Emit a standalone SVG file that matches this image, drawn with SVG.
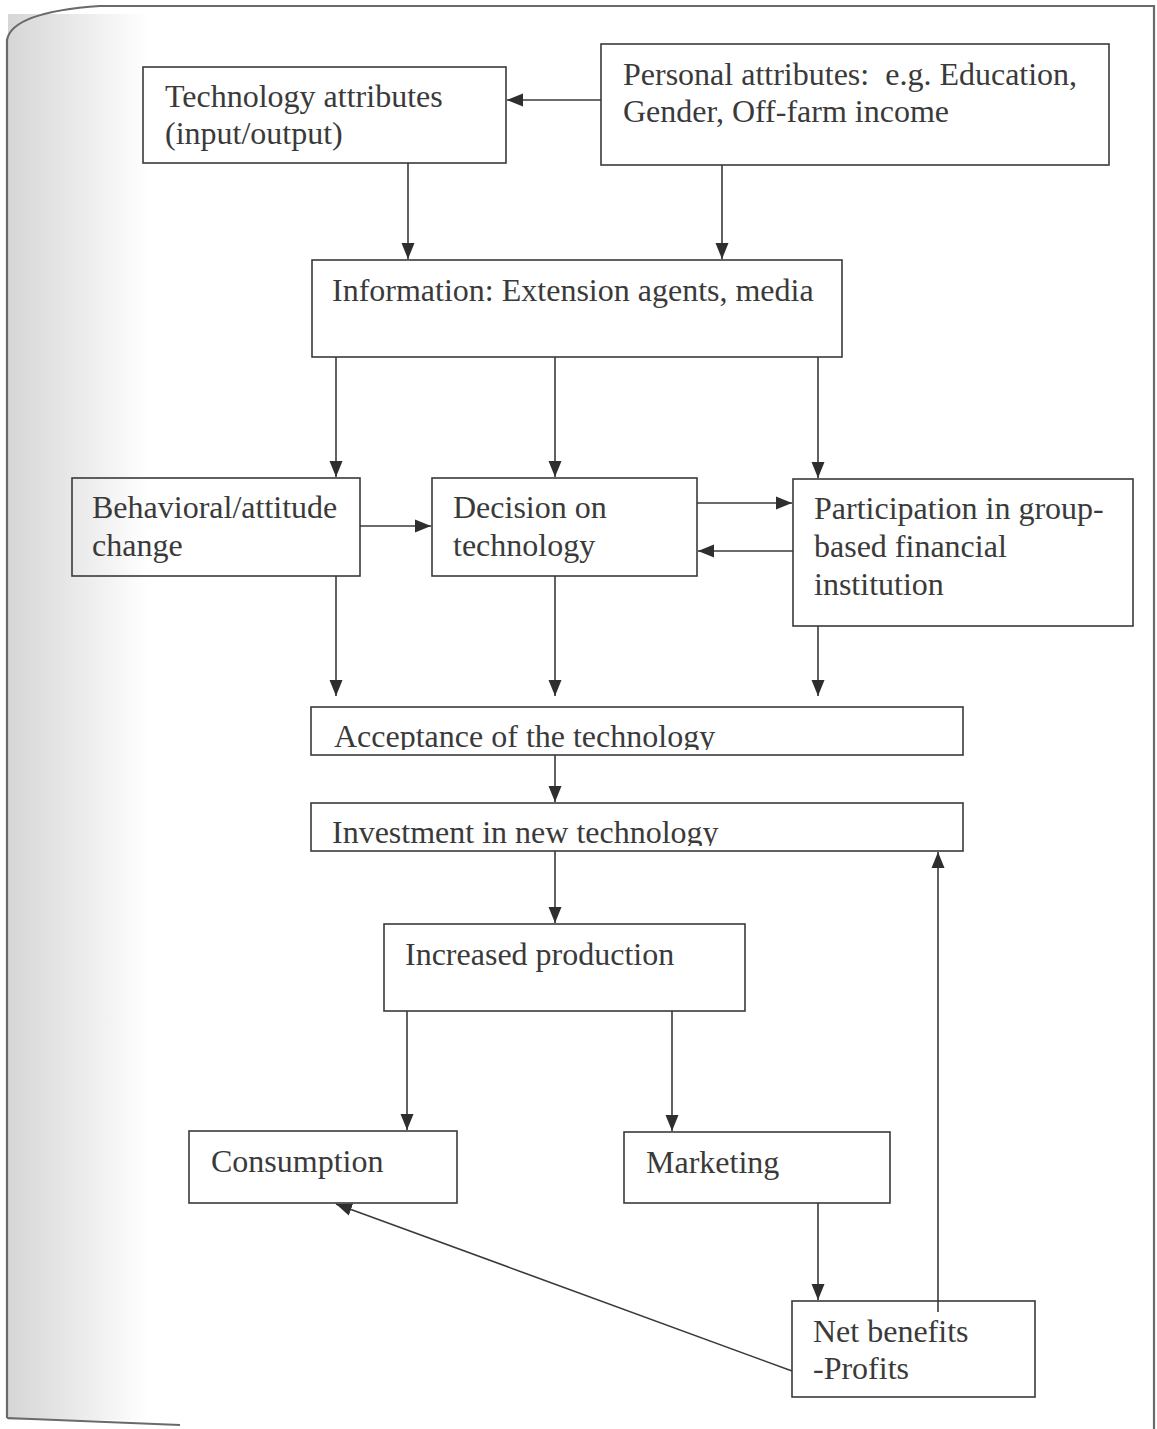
<svg xmlns="http://www.w3.org/2000/svg" width="1157" height="1429" viewBox="0 0 1157 1429">
<style>
.box{fill:none;stroke:#3a3a3a;stroke-width:1.6}
.lbl{font-family:"Liberation Serif","Times New Roman",serif;font-size:32px;fill:#3a3a3a}
.con{stroke:#3a3a3a;stroke-width:1.6;fill:none;marker-end:url(#ah)}
.frame{stroke:#6a6a6a;stroke-width:2.2;fill:none}
</style>
<defs>
<marker id="ah" markerWidth="18" markerHeight="14" refX="16" refY="7" orient="auto" markerUnits="userSpaceOnUse">
<path d="M0,0.5 L16,7 L0,13.5 Z" fill="#2e2e2e"/>
</marker>
<linearGradient id="band" x1="0" y1="0" x2="1" y2="0">
<stop offset="0" stop-color="#d6d6d6"/>
<stop offset="0.4" stop-color="#e6e6e6"/>
<stop offset="1" stop-color="#ffffff"/>
</linearGradient>
<clipPath id="clipAcc"><rect x="311" y="707" width="652" height="43"/></clipPath>
<clipPath id="clipInv"><rect x="311" y="803" width="652" height="43"/></clipPath>
</defs>
<rect x="0" y="0" width="1157" height="1429" fill="#ffffff"/>
<rect x="8" y="14" width="140" height="1406" fill="url(#band)"/>
<g id="page-frame">
<path class="frame" d="M7,1418 L7,40 Q12,12 100,6 L1154,6 L1154,1429"/>
<path class="frame" d="M7,1418 L180,1425"/>
</g>
<g id="connectors">
<line class="con" x1="601" y1="100" x2="507" y2="100"/>
<line class="con" x1="408" y1="163" x2="408" y2="259"/>
<line class="con" x1="722" y1="165" x2="722" y2="259"/>
<line class="con" x1="336" y1="357" x2="336" y2="477"/>
<line class="con" x1="555" y1="357" x2="555" y2="477"/>
<line class="con" x1="818" y1="357" x2="818" y2="478"/>
<line class="con" x1="360" y1="526" x2="431" y2="526"/>
<line class="con" x1="697" y1="503" x2="792" y2="503"/>
<line class="con" x1="793" y1="551" x2="698" y2="551"/>
<line class="con" x1="336" y1="576" x2="336" y2="696"/>
<line class="con" x1="555" y1="576" x2="555" y2="696"/>
<line class="con" x1="818" y1="626" x2="818" y2="696"/>
<line class="con" x1="555" y1="755" x2="555" y2="802"/>
<line class="con" x1="555" y1="851" x2="555" y2="923"/>
<line class="con" x1="407" y1="1011" x2="407" y2="1130"/>
<line class="con" x1="672" y1="1011" x2="672" y2="1131"/>
<line class="con" x1="818" y1="1203" x2="818" y2="1300"/>
<line class="con" x1="938" y1="1312" x2="938" y2="852"/>
<line class="con" x1="792" y1="1371" x2="336" y2="1204"/>
</g>
<g id="tech-attributes">
<rect class="box" x="143" y="67" width="363" height="96"/>
<text class="lbl" x="165" y="107">Technology attributes</text>
<text class="lbl" x="165" y="144">(input/output)</text>
</g>
<g id="personal-attributes">
<rect class="box" x="601" y="44" width="508" height="121"/>
<text class="lbl" x="623" y="85" xml:space="preserve">Personal attributes:  e.g. Education,</text>
<text class="lbl" x="623" y="122">Gender, Off-farm income</text>
</g>
<g id="information">
<rect class="box" x="312" y="260" width="530" height="97"/>
<text class="lbl" x="332" y="301">Information: Extension agents, media</text>
</g>
<g id="behavioral">
<rect class="box" x="72" y="478" width="288" height="98"/>
<text class="lbl" x="92" y="518">Behavioral/attitude</text>
<text class="lbl" x="92" y="556">change</text>
</g>
<g id="decision">
<rect class="box" x="432" y="478" width="265" height="98"/>
<text class="lbl" x="453" y="518">Decision on</text>
<text class="lbl" x="453" y="556">technology</text>
</g>
<g id="participation">
<rect class="box" x="793" y="479" width="340" height="147"/>
<text class="lbl" x="814" y="519">Participation in group-</text>
<text class="lbl" x="814" y="557">based financial</text>
<text class="lbl" x="814" y="595">institution</text>
</g>
<g id="acceptance">
<rect class="box" x="311" y="707" width="652" height="48"/>
<text class="lbl" x="334" y="747" clip-path="url(#clipAcc)">Acceptance of the technology</text>
</g>
<g id="investment">
<rect class="box" x="311" y="803" width="652" height="48"/>
<text class="lbl" x="332" y="843" clip-path="url(#clipInv)">Investment in new technology</text>
</g>
<g id="increased-production">
<rect class="box" x="384" y="924" width="361" height="87"/>
<text class="lbl" x="405" y="965">Increased production</text>
</g>
<g id="consumption">
<rect class="box" x="189" y="1131" width="268" height="72"/>
<text class="lbl" x="211" y="1172">Consumption</text>
</g>
<g id="marketing">
<rect class="box" x="624" y="1132" width="266" height="71"/>
<text class="lbl" x="646" y="1173">Marketing</text>
</g>
<g id="net-benefits">
<rect class="box" x="792" y="1301" width="243" height="96"/>
<text class="lbl" x="813" y="1342">Net benefits</text>
<text class="lbl" x="813" y="1379">-Profits</text>
</g>
</svg>
